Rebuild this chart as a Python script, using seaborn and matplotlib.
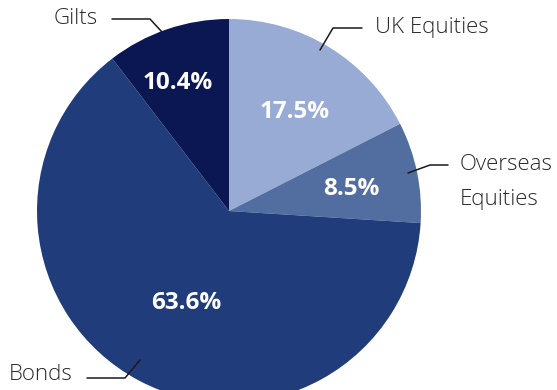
import matplotlib
matplotlib.use("Agg")
import matplotlib.pyplot as plt
import seaborn as sns

categories = ["UK Equities", "Overseas Equities", "Bonds", "Gilts"]
values = [17.5, 8.5, 63.6, 10.4]
pct_labels = ["17.5%", "8.5%", "63.6%", "10.4%"]
colors = ["#97abd5", "#526d9f", "#203c7a", "#0b1752"]

sns.set_theme(style="white")
plt.rcParams['font.family'] = ['Open Sans', 'DejaVu Sans']

W, H = 557, 390
fig = plt.figure(figsize=(W / 100, H / 100), dpi=100)
ax = fig.add_axes([0, 0, 1, 1])

def Y(py):
    return H - py

cx, cy, r = 229, 211, 192
ax.pie(values, colors=colors, startangle=90, counterclock=False,
       center=(cx, Y(cy)), radius=r, frame=True,
       wedgeprops=dict(linewidth=0))
ax.set_xlim(0, W)
ax.set_ylim(0, H)
ax.set_aspect('equal')
ax.axis('off')

# percentage labels
pct_pos = [(295, 112), (351, 189), (186, 303), (178, 83)]
for lab, (px, py) in zip(pct_labels, pct_pos):
    ax.text(px, Y(py), lab, color="white", fontsize=17.5, fontweight="bold",
            ha="center", va="center")

lc = "#1a1a1a"
tc = "#2a2a2a"
fw = "light"
# Gilts
ax.text(54, Y(19), "Gilts", fontsize=16, color=tc, fontweight=fw, ha="left", va="center")
ax.plot([112, 150, 162], [Y(19), Y(19), Y(32)], color=lc, lw=1.1)
# UK Equities
ax.text(375, Y(28), "UK Equities", fontsize=16, color=tc, fontweight=fw, ha="left", va="center")
ax.plot([362, 333, 320], [Y(28), Y(28), Y(50)], color=lc, lw=1.1)
# Overseas Equities
ax.text(460, Y(164), "Overseas", fontsize=16, color=tc, fontweight=fw, ha="left", va="center")
ax.text(460, Y(199), "Equities", fontsize=16, color=tc, fontweight=fw, ha="left", va="center")
ax.plot([448, 430, 408], [Y(165), Y(165), Y(173)], color=lc, lw=1.1)
# Bonds
ax.text(9, Y(375), "Bonds", fontsize=16, color=tc, fontweight=fw, ha="left", va="center")
ax.plot([87, 125, 140], [Y(378), Y(378), Y(360)], color=lc, lw=1.1)

fig.savefig("out.png", dpi=100, facecolor="white")
